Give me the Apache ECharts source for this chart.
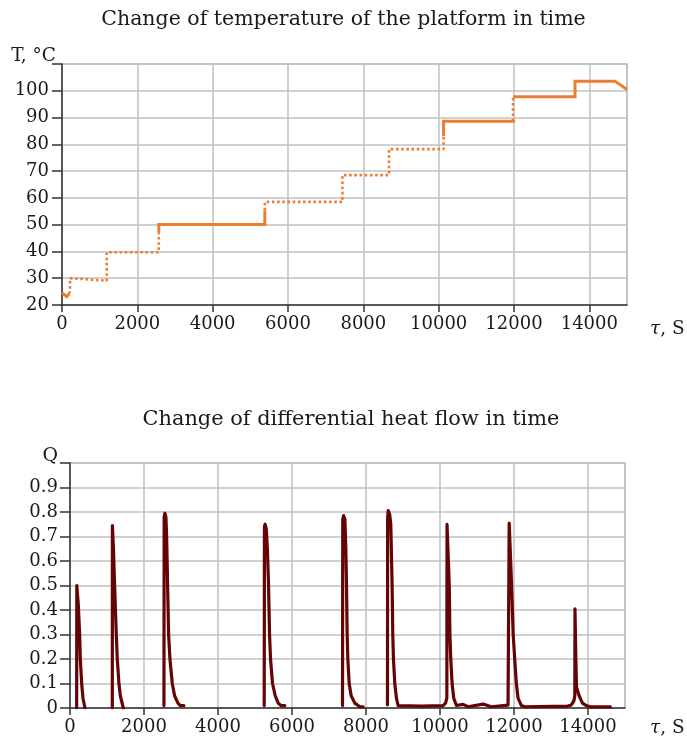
<!DOCTYPE html>
<html><head><meta charset="utf-8">
<script src="https://cdn.jsdelivr.net/npm/echarts@6/dist/echarts.min.js"></script>
<style>html,body{margin:0;padding:0;background:#fff}#c{width:687px;height:741px}</style>
</head><body><div id="c"></div>
<script>
// ---- Titles / axis texts ----
const titleTop = 'Change of temperature of the platform in time';
const titleBottom = 'Change of differential heat flow in time';
const tempYName = 'T, °C';
const qYName = 'Q';
const xName = '{i|τ}, S';

// ---- Tick values ----
const xTicks = [0, 2000, 4000, 6000, 8000, 10000, 12000, 14000];
const tempYTicks = [20, 30, 40, 50, 60, 70, 80, 90, 100];
const qYTicks = [0, 0.1, 0.2, 0.3, 0.4, 0.5, 0.6, 0.7, 0.8, 0.9];

// ---- Temperature (solid and dotted pieces), [time, T] ----
const tempSolid1 = [[0,24.6],[125,23.1],[190,24.2]];
const tempDotted1 = [[190,24.2],[212,25.5],[212,30],[1186,29.1],[1186,39.7],[2570,39.7],[2570,47]];
const tempSolid2 = [[2570,47],[2570,50.1],[5385,50.1],[5385,55.3]];
const tempDotted2 = [[5385,55.3],[5385,58.5],[7445,58.5],[7445,68.5],[8682,68.5],[8682,78.2],[10130,78.2],[10130,83]];
const tempSolid3 = [[10130,83],[10130,88.6],[12030,88.6]];
const tempDotted3 = [[11975,88.6],[11975,97.8]];
const tempSolid4 = [[11975,97.8],[13620,97.8],[13620,103.6],[14680,103.6],[15000,100.5]];

// ---- Differential heat flow pieces, [time, Q] ----
const q1 = [[180,0],[184,0.5],[225,0.42],[261,0.3],[279,0.2],[315,0.1],[351,0.04],[405,0]];
const q2 = [[1143,0],[1146,0.745],[1172,0.66],[1206,0.5],[1251,0.3],[1278,0.2],[1323,0.1],[1360,0.05],[1441,0]];
const q3 = [[2539,0.01],[2545,0.78],[2565,0.795],[2592,0.78],[2612,0.7],[2638,0.5],[2665,0.3],[2701,0.2],[2764,0.1],[2827,0.05],[2917,0.02],[2980,0.01],[3079,0.01]];
const q4 = [[5249,0.01],[5255,0.74],[5275,0.75],[5305,0.73],[5335,0.65],[5366,0.5],[5393,0.3],[5420,0.2],[5474,0.1],[5546,0.05],[5627,0.02],[5700,0.01],[5807,0.01]];
const q5 = [[7365,0.01],[7372,0.77],[7395,0.785],[7430,0.77],[7455,0.65],[7473,0.5],[7491,0.3],[7509,0.2],[7545,0.1],[7599,0.05],[7698,0.02],[7833,0.005],[7923,0.005]];
const q6 = [[8580,0.013],[8585,0.78],[8600,0.806],[8640,0.79],[8670,0.75],[8706,0.5],[8724,0.3],[8742,0.2],[8778,0.1],[8823,0.04],[8868,0.01],[9500,0.008],[10084,0.01],[10150,0.02],[10185,0.04],[10190,0.75],[10225,0.75],[10250,0.5],[10268,0.3],[10291,0.2],[10327,0.1],[10372,0.04],[10444,0.01],[10624,0.015],[10759,0.005],[11164,0.016],[11389,0.005],[11839,0.012],[11866,0.02],[11870,0.755],[11900,0.75],[11935,0.5],[11978,0.3],[12028,0.18],[12064,0.1],[12109,0.04],[12200,0.01],[12289,0.005],[13450,0.008],[13550,0.012],[13620,0.03],[13644,0.05],[13648,0.405],[13672,0.2],[13690,0.085],[13705,0.08],[13760,0.05],[13850,0.02],[13955,0.01],[14050,0.005],[14604,0.005]];

const FONT = 'DejaVu Serif';
const gridColor = '#c0c0c0';
const axisColor = '#333333';
const orange = '#ed7d31';
const darkRed = '#650404';

function xAxisCfg(gridIndex) {
  return {
    type: 'value', gridIndex, min: 0, max: 15000, interval: 2000,
    axisLine: { show: true, onZero: false, lineStyle: { color: axisColor, width: 1.5 } },
    axisTick: { show: true, length: 7, lineStyle: { color: axisColor, width: 1.5 } },
    axisLabel: { show: true, margin: 10, fontFamily: FONT, fontSize: 18, color: '#1a1a1a',
      showMaxLabel: false,
      formatter: v => xTicks.indexOf(v) >= 0 ? String(v) : '' },
    splitLine: { show: true, lineStyle: { color: gridColor, width: 1.5 } }
  };
}

const solidStyle = { color: orange, width: 3, type: 'solid', cap: 'butt', join: 'miter' };
const dottedStyle = { color: orange, width: 2.6, type: [2.6, 2.6], cap: 'butt' };
function lineSeries(data, style, xi, yi) {
  return { type: 'line', data, xAxisIndex: xi, yAxisIndex: yi, showSymbol: false, symbol: 'none',
    lineStyle: style, itemStyle: { color: style.color }, animation: false, silent: true, z: 3 };
}
const qStyle = { color: darkRed, width: 3.2, join: 'round', cap: 'round' };

const chart = echarts.init(document.getElementById('c'), null, { renderer: 'canvas' });
chart.setOption({
  backgroundColor: '#fff',
  animation: false,
  title: [
    { text: titleTop, left: 'center', top: 4, textStyle: { fontFamily: FONT, fontSize: 20.5, fontWeight: 'normal', color: '#1a1a1a' } },
    { text: titleBottom, left: 351, top: 409, padding: 0, textAlign: 'center', textStyle: { fontFamily: FONT, fontSize: 20.9, fontWeight: 'normal', color: '#1a1a1a' } }
  ],
  grid: [
    { left: 62, right: 60, top: 64, height: 241, show: true, borderColor: gridColor, borderWidth: 1.5 },
    { left: 70, right: 62, top: 463, height: 245, show: true, borderColor: gridColor, borderWidth: 1.5 }
  ],
  xAxis: [xAxisCfg(0), xAxisCfg(1)],
  yAxis: [
    { type: 'value', gridIndex: 0, min: 20, max: 110, interval: 10,
      axisLine: { show: true, lineStyle: { color: axisColor, width: 1.5 } },
      axisTick: { show: true, length: 10, lineStyle: { color: axisColor, width: 1.5 } },
      axisLabel: { margin: 13, fontFamily: FONT, fontSize: 18, color: '#1a1a1a',
        formatter: v => tempYTicks.indexOf(v) >= 0 ? String(v) : '' },
      splitLine: { show: true, lineStyle: { color: gridColor, width: 1.5 } } },
    { type: 'value', gridIndex: 1, min: 0, max: 1, interval: 0.1,
      axisLine: { show: true, lineStyle: { color: axisColor, width: 1.5 } },
      axisTick: { show: true, length: 10, lineStyle: { color: axisColor, width: 1.5 } },
      axisLabel: { margin: 12, fontFamily: FONT, fontSize: 18, color: '#1a1a1a',
        formatter: v => { const r = Math.round(v * 10) / 10; return qYTicks.indexOf(r) >= 0 && v < 0.95 ? String(r) : ''; } },
      splitLine: { show: true, lineStyle: { color: gridColor, width: 1.5 } } }
  ],
  graphic: [
    { type: 'text', x: 56, y: 56, style: { text: tempYName, align: 'right', verticalAlign: 'middle', fontFamily: FONT, fontSize: 18.5, fill: '#1a1a1a' } },
    { type: 'text', x: 58, y: 456, style: { text: qYName, align: 'right', verticalAlign: 'middle', fontFamily: FONT, fontSize: 19, fill: '#1a1a1a' } },
    { type: 'text', x: 650, y: 329, style: { text: xName, align: 'left', verticalAlign: 'middle', fontFamily: FONT, fontSize: 18.5, fill: '#1a1a1a', rich: { i: { fontStyle: 'italic', fontFamily: FONT, fontSize: 18.5, fill: '#1a1a1a' } } } },
    { type: 'text', x: 650, y: 728, style: { text: xName, align: 'left', verticalAlign: 'middle', fontFamily: FONT, fontSize: 18.5, fill: '#1a1a1a', rich: { i: { fontStyle: 'italic', fontFamily: FONT, fontSize: 18.5, fill: '#1a1a1a' } } } }
  ],
  series: [
    lineSeries(tempSolid1, solidStyle, 0, 0),
    lineSeries(tempDotted1, dottedStyle, 0, 0),
    lineSeries(tempSolid2, solidStyle, 0, 0),
    lineSeries(tempDotted2, dottedStyle, 0, 0),
    lineSeries(tempSolid3, solidStyle, 0, 0),
    lineSeries(tempDotted3, dottedStyle, 0, 0),
    lineSeries(tempSolid4, solidStyle, 0, 0),
    lineSeries(q1, qStyle, 1, 1),
    lineSeries(q2, qStyle, 1, 1),
    lineSeries(q3, qStyle, 1, 1),
    lineSeries(q4, qStyle, 1, 1),
    lineSeries(q5, qStyle, 1, 1),
    lineSeries(q6, qStyle, 1, 1)
  ]
});
</script>
</body></html>
